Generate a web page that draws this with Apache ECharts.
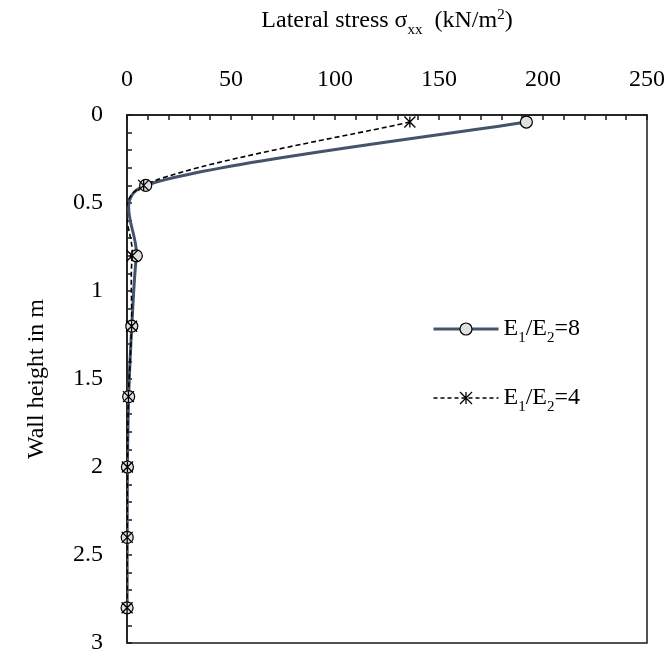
<!DOCTYPE html>
<html>
<head>
<meta charset="utf-8">
<title>Lateral stress along wall height</title>
<script src="https://cdn.jsdelivr.net/npm/echarts@6/dist/echarts.min.js"></script>
<style>
  html, body { margin: 0; padding: 0; background: #fff; }
  #chart { width: 671px; height: 660px; }
</style>
</head>
<body>
<div id="chart"></div>
<script>
// Wall height (m) at which lateral stress was evaluated
var depth = [0.04, 0.4, 0.8, 1.2, 1.6, 2.0, 2.4, 2.8];
// Lateral stress sigma_xx (kN/m2) for each modulus ratio
var stressRatio8 = [192, 9, 4.5, 2.3, 0.8, 0.2, 0.1, 0.05];
var stressRatio4 = [136, 8, 2.5, 2.2, 0.7, 0.2, 0.1, 0.05];
var seriesNames = ['E1/E2=8', 'E1/E2=4'];
// Axis ranges and labelled steps
var stressTicks = [0, 50, 100, 150, 200, 250];
var heightTicks = [0, 0.5, 1, 1.5, 2, 2.5, 3];

var FONT = "'Liberation Serif', 'Times New Roman', serif";
var FS = 24;
var LINE8 = '#44546a';

function pairs(xs) {
  return xs.map(function (v, i) { return [v, depth[i]]; });
}

// Spreadsheet-style smoothing: cubic Bezier segments whose control arms follow the
// neighbouring chord (1/6 of it), capped at half of the segment length.
function smoothRenderer(xs, style) {
  return function (params, api) {
    var i = params.dataIndex;
    var n = xs.length;
    if (i >= n - 1) return null;
    function pt(k) {
      k = Math.max(0, Math.min(n - 1, k));
      return api.coord([xs[k], depth[k]]);
    }
    function dist(a, b) { return Math.sqrt((a[0] - b[0]) * (a[0] - b[0]) + (a[1] - b[1]) * (a[1] - b[1])); }
    var p0 = pt(i - 1), p1 = pt(i), p2 = pt(i + 1), p3 = pt(i + 2);
    var d12 = dist(p1, p2), d02 = dist(p0, p2), d13 = dist(p1, p3);
    var f = 1 / 6, g = 1 / 6;
    if (d02 > 0 && d02 / 6 >= d12 / 2) f = d12 / (2 * d02);
    if (d13 > 0 && d13 / 6 >= d12 / 2) g = d12 / (2 * d13);
    return {
      type: 'bezierCurve',
      shape: {
        x1: p1[0], y1: p1[1],
        cpx1: p1[0] + (p2[0] - p0[0]) * f, cpy1: p1[1] + (p2[1] - p0[1]) * f,
        cpx2: p2[0] - (p3[0] - p1[0]) * g, cpy2: p2[1] - (p3[1] - p1[1]) * g,
        x2: p2[0], y2: p2[1]
      },
      style: style,
      silent: true
    };
  };
}

var starPath = 'path://M0,0L10,10M10,0L0,10M5,0L5,10';

var chart = echarts.init(document.getElementById('chart'), null, { renderer: 'canvas' });

chart.setOption({
  animation: false,
  textStyle: { fontFamily: FONT, color: '#000' },
  grid: {
    left: 127, right: 24, top: 115, bottom: 17,
    show: true, borderColor: '#1a1a1a', borderWidth: 1.5, backgroundColor: 'transparent'
  },
  xAxis: {
    type: 'value',
    position: 'top',
    min: stressTicks[0],
    max: stressTicks[stressTicks.length - 1],
    interval: 10,
    name: '{n|Lateral stress σ}{s|xx}{n|  (kN/m}{p|2}{n|)}',
    nameLocation: 'middle',
    nameGap: 80,
    nameTextStyle: {
      fontFamily: FONT, color: '#000',
      rich: {
        n: { fontFamily: FONT, fontSize: FS, color: '#000', lineHeight: 28 },
        s: { fontFamily: FONT, fontSize: 15, color: '#000', lineHeight: 15, verticalAlign: 'bottom', padding: [0, 0, -3, 0] },
        p: { fontFamily: FONT, fontSize: 15, color: '#000', lineHeight: 15, verticalAlign: 'top', padding: [1, 0, 0, 0] }
      }
    },
    axisLine: { show: true, onZero: false, lineStyle: { color: '#1a1a1a', width: 1.5 } },
    axisTick: { show: true, inside: true, length: 5, lineStyle: { color: '#1a1a1a', width: 1.5 } },
    axisLabel: {
      fontFamily: FONT, fontSize: FS, color: '#000', margin: 23,
      formatter: function (v) {
        var r = Math.round(v);
        return Math.abs(v - r) < 1e-6 && stressTicks.indexOf(r) >= 0 ? String(r) : '';
      }
    },
    splitLine: { show: false }
  },
  yAxis: {
    type: 'value',
    inverse: true,
    min: heightTicks[0],
    max: heightTicks[heightTicks.length - 1],
    interval: 0.1,
    name: 'Wall height in m',
    nameLocation: 'middle',
    nameGap: 78,
    nameTextStyle: { fontFamily: FONT, fontSize: FS, color: '#000' },
    axisLine: { show: true, onZero: false, lineStyle: { color: '#1a1a1a', width: 1.5 } },
    axisTick: { show: true, inside: true, length: 5, lineStyle: { color: '#1a1a1a', width: 1.5 } },
    axisLabel: {
      fontFamily: FONT, fontSize: FS, color: '#000', margin: 24,
      formatter: function (v) {
        var r = Math.round(v * 10) / 10;
        for (var k = 0; k < heightTicks.length; k++) {
          if (Math.abs(heightTicks[k] - r) < 1e-6) return String(heightTicks[k]);
        }
        return '';
      }
    },
    splitLine: { show: false }
  },
  legend: {
    orient: 'vertical',
    left: 432,
    top: 317,
    itemWidth: 65,
    itemHeight: 15,
    itemGap: 40,
    padding: 0,
    selectedMode: false,
    formatter: function (name) {
      var parts = name.split('=');
      return '{n|E}{s|1}{n|/E}{s|2}{n|=' + parts[1] + '}';
    },
    textStyle: {
      fontFamily: FONT, color: '#000', padding: [0, 0, 0, 0],
      rich: {
        n: { fontFamily: FONT, fontSize: FS, color: '#000', lineHeight: 28 },
        s: { fontFamily: FONT, fontSize: 15, color: '#000', lineHeight: 15, verticalAlign: 'bottom', padding: [0, 0, -3, 0] }
      }
    },
    data: [
      {
        name: seriesNames[0],
        itemStyle: { color: '#e0e0e0', borderColor: '#000', borderWidth: 1.2 },
        lineStyle: { color: LINE8, width: 3, type: 'solid', opacity: 1 }
      },
      {
        name: seriesNames[1],
        itemStyle: { color: '#000', borderColor: '#000', borderWidth: 1.3 },
        lineStyle: { color: '#000', width: 1.5, type: [4, 3], opacity: 1 }
      }
    ]
  },
  series: [
    {
      type: 'custom',
      name: 'curve8',
      coordinateSystem: 'cartesian2d',
      clip: true,
      silent: true,
      z: 2,
      data: pairs(stressRatio8),
      renderItem: smoothRenderer(stressRatio8, { stroke: LINE8, lineWidth: 3, fill: null })
    },
    {
      type: 'custom',
      name: 'curve4',
      coordinateSystem: 'cartesian2d',
      clip: true,
      silent: true,
      z: 3,
      data: pairs(stressRatio4),
      renderItem: smoothRenderer(stressRatio4, { stroke: '#000', lineWidth: 1.6, fill: null, lineDash: [5, 3] })
    },
    {
      type: 'line',
      name: seriesNames[0],
      data: pairs(stressRatio8),
      symbol: 'circle',
      symbolSize: 12,
      showSymbol: true,
      clip: false,
      z: 4,
      itemStyle: { color: '#e0e0e0', borderColor: '#000', borderWidth: 1.2 },
      lineStyle: { color: LINE8, opacity: 0, width: 3 },
      emphasis: { disabled: true }
    },
    {
      type: 'line',
      name: seriesNames[1],
      data: pairs(stressRatio4),
      symbol: starPath,
      symbolSize: 11,
      showSymbol: true,
      clip: false,
      z: 5,
      itemStyle: { color: '#000', borderColor: '#000', borderWidth: 1.3 },
      lineStyle: { color: '#000', opacity: 0, width: 1.5, type: [4, 3] },
      emphasis: { disabled: true }
    }
  ]
});
</script>
</body>
</html>
